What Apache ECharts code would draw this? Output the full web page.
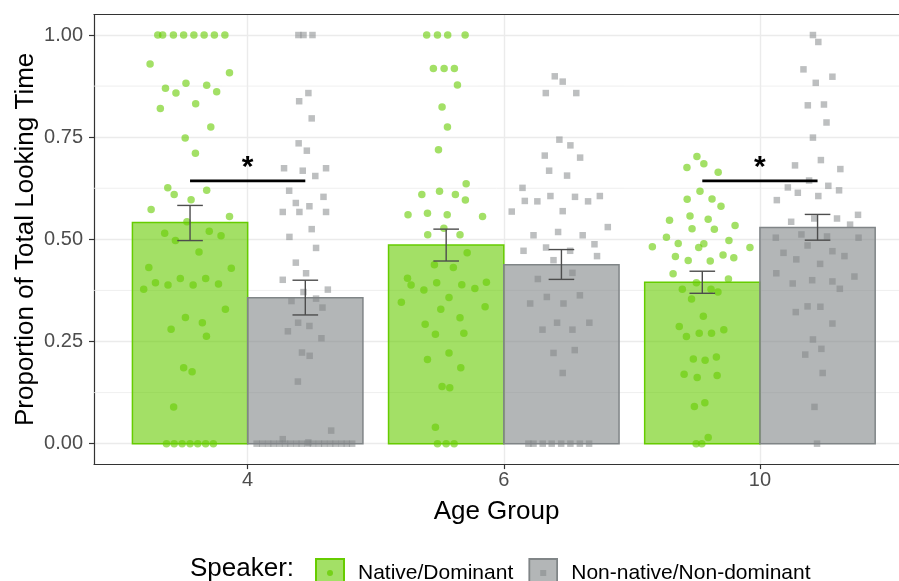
<!DOCTYPE html>
<html><head><meta charset="utf-8">
<script src="https://cdn.jsdelivr.net/npm/echarts@6/dist/echarts.min.js"></script>
<style>html,body{margin:0;padding:0;background:#fff}#c{width:899px;height:581px}</style>
</head><body><div id="c"></div>
<script>
// ---------- data ----------
const ageGroups = ['4', '6', '10'];
const speakerNames = ['Native/Dominant', 'Non-native/Non-dominant'];
const yTicks = [0, 0.25, 0.5, 0.75, 1];
const yMinorTicks = [0.125, 0.375, 0.625, 0.875];
const xTicks = [0, 1, 2];

const nativeMeans = [0.541, 0.486, 0.395];
const nativeLower = [0.497, 0.447, 0.368];
const nativeUpper = [0.583, 0.525, 0.422];
const nonNativeMeans = [0.357, 0.438, 0.529];
const nonNativeLower = [0.315, 0.402, 0.498];
const nonNativeUpper = [0.400, 0.475, 0.561];

const sigGroups = [0, 2];
const sigLevels = [0.643, 0.643];
const sigLabel = '*';

// individual points: [age-axis position incl. jitter, proportion]
const native4 = [
[-0.351,1],[-0.332,1],[-0.290,1],[-0.250,1],[-0.210,1],[-0.170,1],[-0.130,1],[-0.089,1],
[-0.381,0.929],[-0.071,0.908],[-0.241,0.882],[-0.321,0.870],[-0.280,0.858],[-0.160,0.877],[-0.121,0.861],[-0.203,0.832],[-0.341,0.820],[-0.144,0.775],[-0.244,0.748],[-0.204,0.711],
[-0.312,0.626],[-0.287,0.610],[-0.160,0.620],[-0.221,0.597],[-0.377,0.573],[-0.071,0.556],[-0.237,0.543],[-0.324,0.515],[-0.150,0.520],[-0.104,0.509],[-0.282,0.497],[-0.190,0.469],
[-0.386,0.431],[-0.064,0.429],[-0.263,0.404],[-0.164,0.404],[-0.360,0.394],[-0.311,0.388],[-0.213,0.388],[-0.114,0.391],[-0.406,0.378],
[-0.087,0.329],[-0.243,0.309],[-0.177,0.296],[-0.299,0.280],[-0.161,0.263],[-0.250,0.186],[-0.217,0.176],[-0.289,0.090],
[-0.317,0],[-0.287,0],[-0.256,0],[-0.225,0],[-0.195,0],[-0.164,0],[-0.134,0]
];
const nonNative4 = [
[0.198,1],[0.218,1],[0.253,1],
[0.237,0.858],[0.201,0.838],[0.250,0.796],[0.199,0.735],[0.231,0.717],[0.142,0.674],[0.215,0.668],[0.306,0.674],[0.264,0.655],[0.162,0.619],[0.296,0.604],[0.188,0.589],[0.241,0.581],[0.137,0.567],[0.202,0.567],[0.306,0.567],
[0.250,0.525],[0.163,0.506],[0.267,0.479],[0.188,0.443],[0.228,0.417],[0.137,0.401],[0.313,0.377],[0.218,0.371],[0.267,0.355],[0.171,0.349],[0.292,0.333],
[0.197,0.296],[0.241,0.288],[0.157,0.275],[0.288,0.258],[0.212,0.223],[0.242,0.215],[0.196,0.152],[0.326,0.032],[0.137,0.011],[0.237,0.003],
[0.035,0],[0.057,0],[0.080,0],[0.101,0],[0.124,0],[0.146,0],[0.167,0],[0.190,0],[0.211,0],[0.234,0],[0.255,0],[0.278,0],[0.299,0],[0.322,0],[0.343,0],[0.366,0],[0.387,0],[0.408,0]
];
const native6 = [
[0.699,1],[0.741,1],[0.781,1],[0.849,1],[0.725,0.918],[0.767,0.918],[0.807,0.918],
[0.819,0.878],[0.759,0.824],[0.780,0.775],[0.745,0.719],[0.853,0.636],[0.749,0.618],[0.680,0.610],[0.811,0.610],[0.850,0.596],[0.702,0.564],[0.626,0.560],[0.779,0.560],[0.917,0.556],
[0.766,0.527],[0.703,0.511],[0.829,0.511],[0.857,0.467],[0.729,0.438],[0.803,0.431],[0.624,0.405],[0.638,0.388],[0.738,0.394],[0.836,0.389],[0.688,0.376],[0.887,0.380],[0.932,0.395],
[0.786,0.358],[0.600,0.346],[0.927,0.335],[0.754,0.329],[0.829,0.308],[0.693,0.292],[0.733,0.268],[0.844,0.270],[0.786,0.222],[0.702,0.206],[0.832,0.186],[0.759,0.140],[0.789,0.137],[0.733,0.040],
[0.741,0],[0.775,0],[0.806,0]
];
const nonNative6 = [
[1.199,0.899],[1.230,0.886],[1.164,0.858],[1.283,0.858],[1.217,0.744],[1.260,0.730],[1.160,0.705],[1.298,0.700],[1.177,0.668],[1.247,0.656],
[1.073,0.626],[1.182,0.606],[1.278,0.604],[1.375,0.606],[1.082,0.594],[1.131,0.593],[1.329,0.593],[1.230,0.569],[1.031,0.568],[1.406,0.530],
[1.212,0.518],[1.116,0.510],[1.308,0.510],[1.354,0.488],[1.165,0.480],[1.077,0.472],[1.259,0.472],[1.364,0.459],[1.194,0.449],[1.268,0.418],
[1.133,0.403],[1.297,0.363],[1.168,0.359],[1.103,0.343],[1.233,0.343],[1.208,0.296],[1.334,0.296],[1.151,0.279],[1.268,0.279],[1.277,0.229],
[1.194,0.222],[1.230,0.173],
[1.096,0],[1.116,0],[1.152,0],[1.187,0],[1.224,0],[1.260,0],[1.297,0],[1.333,0]
];
const native10 = [
[1.754,0.703],[1.781,0.685],[1.715,0.676],[1.837,0.664],[1.766,0.618],[1.716,0.598],[1.813,0.599],[1.848,0.581],[1.727,0.557],[1.798,0.549],
[1.647,0.547],[1.903,0.534],[1.735,0.526],[1.822,0.525],[1.635,0.505],[1.879,0.497],[1.681,0.490],[1.781,0.489],[1.761,0.480],[1.580,0.482],
[1.961,0.480],[1.856,0.462],[1.670,0.458],[1.898,0.455],[1.720,0.448],[1.806,0.447],[1.661,0.416],[1.877,0.403],[1.752,0.394],[1.697,0.378],
[1.809,0.378],[1.836,0.371],[1.733,0.354],[1.779,0.312],[1.685,0.287],[1.713,0.262],[1.763,0.270],[1.811,0.270],[1.859,0.279],[1.740,0.207],
[1.786,0.204],[1.830,0.212],[1.704,0.170],[1.755,0.162],[1.833,0.167],[1.785,0.100],[1.744,0.091],[1.798,0.015],[1.751,0],[1.773,0]
];
const nonNative10 = [
[2.207,1],[2.228,0.983],[2.170,0.916],[2.283,0.898],[2.218,0.883],[2.250,0.830],[2.187,0.828],[2.260,0.786],[2.207,0.749],[2.238,0.694],
[2.137,0.681],[2.314,0.672],[2.192,0.644],[2.267,0.631],[2.109,0.627],[2.309,0.620],[2.148,0.614],[2.228,0.606],[2.066,0.596],[2.383,0.560],
[2.212,0.551],[2.301,0.551],[2.122,0.543],[2.352,0.536],[2.162,0.512],[2.262,0.507],[2.062,0.504],[2.385,0.504],[2.186,0.485],[2.283,0.471],
[2.092,0.467],[2.330,0.459],[2.142,0.451],[2.235,0.440],[2.064,0.417],[2.369,0.409],[2.204,0.400],[2.283,0.397],[2.128,0.392],[2.312,0.379],
[2.186,0.336],[2.236,0.335],[2.140,0.322],[2.283,0.294],[2.207,0.255],[2.240,0.232],[2.177,0.218],[2.245,0.173],[2.213,0.090],[2.223,0]
];

// ---------- styles ----------
const FONT = '"Liberation Sans", Arial, Helvetica, sans-serif';
const GREEN = '#66CC00', GREEN_FILL = 'rgba(102,204,0,0.6)', GREEN_PT = 'rgba(102,204,0,0.75)';
const GREY = '#808587', GREY_FILL = 'rgba(128,133,135,0.6)', GREY_PT = 'rgba(128,133,135,0.65)';
const DODGE = 0.225, HALF_BAR = 0.225, WHISKER = 0.05;
const X_MIN = -0.6, X_MAX = 2.543;   // discrete axis expansion; panel runs past the right edge
const Y_MIN = -0.05, Y_MAX = 1.05;
const AXIS_LINE = { show: true, onZero: false, lineStyle: { color: '#333333', width: 1.2 } };

function svgIcon(fill, stroke, inner) {
  const s = "<svg xmlns='http://www.w3.org/2000/svg' width='30' height='30'>" +
    "<rect x='1' y='1' width='28' height='28' fill='" + fill + "' stroke='" + stroke + "' stroke-width='2'/>" + inner + "</svg>";
  return 'image://data:image/svg+xml;charset=utf-8,' + encodeURIComponent(s);
}
const iconNative = svgIcon('#A3E066', '#66CC00', "<circle cx='15' cy='15' r='3' fill='#75D119'/>");
const iconNon = svgIcon('#B3B6B7', '#808587', "<rect x='12' y='12' width='6' height='6' fill='#999D9E'/>");

function barSeries(name, means, offset, fill, stroke) {
  return {
    name, type: 'custom', z: 2,
    data: means.map((v, i) => [i, v]),
    renderItem(params, api) {
      const x = api.value(0), y = api.value(1);
      const p0 = api.coord([x + offset - HALF_BAR, y]);
      const p1 = api.coord([x + offset + HALF_BAR, 0]);
      return { type: 'rect', shape: { x: p0[0], y: p0[1], width: p1[0] - p0[0], height: p1[1] - p0[1] },
        style: { fill, stroke, lineWidth: 1.5 } };
    }
  };
}
function errSeries(name, lower, upper, offset) {
  return {
    name, type: 'custom', z: 4,
    data: lower.map((v, i) => [i, v, upper[i]]),
    renderItem(params, api) {
      const x = api.value(0) + offset;
      const lo = api.coord([x, api.value(1)]), hi = api.coord([x, api.value(2)]);
      const l1 = api.coord([x - WHISKER, api.value(1)]), r1 = api.coord([x + WHISKER, api.value(1)]);
      const l2 = api.coord([x - WHISKER, api.value(2)]), r2 = api.coord([x + WHISKER, api.value(2)]);
      const st = { stroke: '#4D4D4D', lineWidth: 1.4 };
      return { type: 'group', children: [
        { type: 'line', shape: { x1: lo[0], y1: lo[1], x2: hi[0], y2: hi[1] }, style: st },
        { type: 'line', shape: { x1: l1[0], y1: l1[1], x2: r1[0], y2: r1[1] }, style: st },
        { type: 'line', shape: { x1: l2[0], y1: l2[1], x2: r2[0], y2: r2[1] }, style: st }
      ] };
    }
  };
}

const chart = echarts.init(document.getElementById('c'), null, { renderer: 'canvas' });
chart.setOption({
  animation: false,
  backgroundColor: '#ffffff',
  textStyle: { fontFamily: FONT },
  grid: { left: 94, top: 14.6, right: 0, height: 449.5, show: false, containLabel: false },
  xAxis: [{
    type: 'value', min: X_MIN, max: X_MAX,
    axisLine: AXIS_LINE,
    axisTick: { show: true, customValues: xTicks, length: 5, lineStyle: { color: '#333333', width: 1.2 } },
    axisLabel: { customValues: xTicks, formatter: v => ageGroups[Math.round(v)], fontSize: 20, color: '#4D4D4D', margin: 6, fontFamily: FONT },
    splitLine: { show: true, lineStyle: { color: '#EBEBEB', width: 1.4 } },
    name: 'Age Group', nameLocation: 'middle', nameGap: 35,
    nameTextStyle: { fontSize: 26, color: '#000000', fontFamily: FONT }
  }, {
    type: 'value', position: 'top', min: X_MIN, max: X_MAX,
    axisLine: AXIS_LINE, axisTick: { show: false }, axisLabel: { show: false }, splitLine: { show: false }
  }],
  yAxis: {
    type: 'value', min: Y_MIN, max: Y_MAX,
    axisLine: AXIS_LINE,
    axisTick: { show: true, customValues: yTicks, length: 5, lineStyle: { color: '#333333', width: 1.2 } },
    axisLabel: { customValues: yTicks, formatter: v => v.toFixed(2), fontSize: 20, color: '#4D4D4D', margin: 11, fontFamily: FONT },
    splitLine: { show: true, lineStyle: { color: '#EBEBEB', width: 1.4 } },
    name: 'Proportion of Total Looking Time', nameLocation: 'middle', nameGap: 55, nameMoveOverlap: false,
    nameTextStyle: { fontSize: 26, color: '#000000', fontFamily: FONT }
  },
  legend: {
    left: 310, top: 553, itemWidth: 30, itemHeight: 30, itemGap: 15,
    textStyle: { fontSize: 21, color: '#000000', fontFamily: FONT, padding: [0, 0, 0, 8] },
    data: [ { name: speakerNames[0], icon: iconNative }, { name: speakerNames[1], icon: iconNon } ]
  },
  graphic: [{ type: 'text', left: 190, top: 556, style: { text: 'Speaker:', font: '26px ' + FONT, fill: '#000000' } }],
  series: [
    { name: 'minorGrid', type: 'custom', z: 1, silent: true,
      data: yMinorTicks.map(v => [v]),
      renderItem(params, api) {
        const a = api.coord([X_MIN, api.value(0)]), b = api.coord([X_MAX, api.value(0)]);
        return { type: 'line', shape: { x1: a[0], y1: a[1], x2: b[0], y2: b[1] }, style: { stroke: '#EBEBEB', lineWidth: 0.8 } };
      } },
    barSeries(speakerNames[0], nativeMeans, -DODGE, GREEN_FILL, GREEN),
    barSeries(speakerNames[1], nonNativeMeans, DODGE, GREY_FILL, GREY),
    { name: speakerNames[0], type: 'scatter', z: 3, symbol: 'circle', symbolSize: 7.5,
      itemStyle: { color: GREEN_PT }, data: native4.concat(native6, native10) },
    { name: speakerNames[1], type: 'scatter', z: 3, symbol: 'rect', symbolSize: 6.5,
      itemStyle: { color: GREY_PT }, data: nonNative4.concat(nonNative6, nonNative10) },
    errSeries(speakerNames[0], nativeLower, nativeUpper, -DODGE),
    errSeries(speakerNames[1], nonNativeLower, nonNativeUpper, DODGE),
    { name: 'significance', type: 'custom', z: 5,
      data: sigGroups.map((g, i) => [g, sigLevels[i]]),
      renderItem(params, api) {
        const g = api.value(0), y = api.value(1);
        const a = api.coord([g - DODGE, y]), b = api.coord([g + DODGE, y]), c = api.coord([g, y]);
        return { type: 'group', children: [
          { type: 'line', shape: { x1: a[0], y1: a[1], x2: b[0], y2: b[1] }, style: { stroke: '#000000', lineWidth: 2.8 } },
          { type: 'text', x: c[0], y: c[1] - 13, style: { text: sigLabel, font: 'bold 30px ' + FONT, fill: '#000000', align: 'center', verticalAlign: 'middle' } }
        ] };
      } }
  ]
});
</script></body></html>
